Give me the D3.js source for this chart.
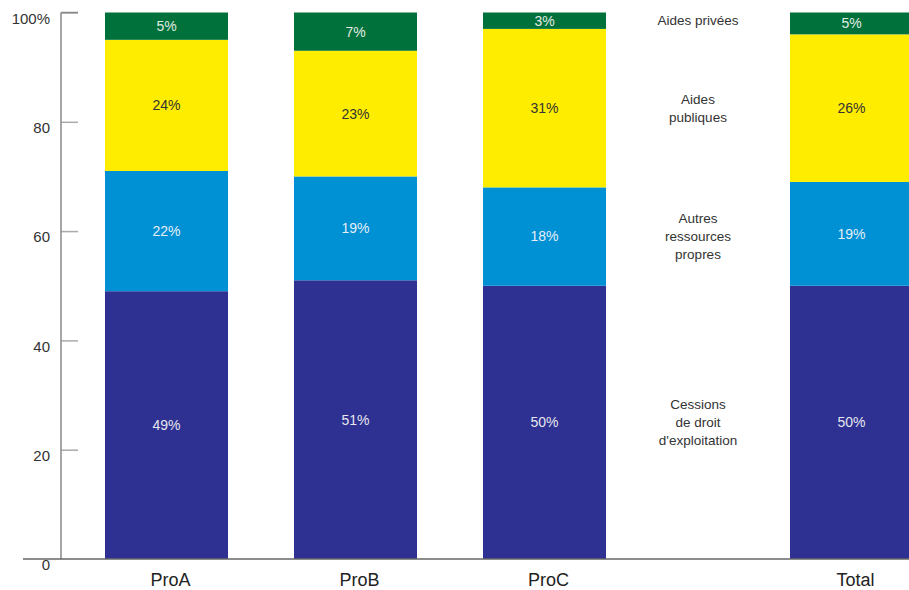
<!DOCTYPE html>
<html>
<head>
<meta charset="utf-8">
<script src="https://cdn.jsdelivr.net/npm/d3@7"></script>
<style>
  body { margin: 0; background: #fff; }
  svg text { font-family: "Liberation Sans", Arial, sans-serif; }
</style>
</head>
<body>
<div id="chart"></div>
<script>
// categories and series (share of each resource, in %)
const categories = ["ProA", "ProB", "ProC", "Total"];
const seriesNames = ["Cessions de droit d'exploitation", "Autres ressources propres", "Aides publiques", "Aides privées"];

// drawn heights of each segment
const cessions = [49, 51, 50, 50];
const autres   = [22, 19, 18, 19];
const publiques = [24, 23, 29, 27];
const privees  = [5, 7, 3, 4];

// printed labels
const cessionsLabels  = ["49%", "51%", "50%", "50%"];
const autresLabels    = ["22%", "19%", "18%", "19%"];
const publiquesLabels = ["24%", "23%", "31%", "26%"];
const priveesLabels   = ["5%", "7%", "3%", "5%"];

// legend text lines
const legendLines = [
  ["Cessions", "de droit", "d'exploitation"],
  ["Autres", "ressources", "propres"],
  ["Aides", "publiques"],
  ["Aides privées"]
];

const yTicks = [0, 20, 40, 60, 80, 100];

const colors = ["#2e3192", "#0090d4", "#ffed00", "#00713a"];
const labelColors = ["#e6e6ee", "#e6eef6", "#333333", "#e0ece4"];

const width = 909, height = 590;
const plotTop = 12.5, plotBottom = 559;

const svg = d3.select("#chart").append("svg")
  .attr("width", width)
  .attr("height", height);

const y = d3.scaleLinear().domain([0, 100]).range([plotBottom, plotTop]);

// bars: three evenly spaced, Total shifted right to leave room for legend
const x = d3.scaleBand().domain(categories).range([105, 795]).paddingInner(66 / 189).paddingOuter(0);
const legendGap = 118;
const xPos = d => x(d) + (d === "Total" ? legendGap : 0);

const values = [cessions, autres, publiques, privees];
const labels = [cessionsLabels, autresLabels, publiquesLabels, priveesLabels];

const rows = categories.map((c, i) => {
  const r = { cat: c };
  seriesNames.forEach((s, k) => r[s] = values[k][i]);
  return r;
});

const stack = d3.stack().keys(seriesNames)(rows);

// segments
stack.forEach((layer, k) => {
  const g = svg.append("g");
  g.selectAll("rect")
    .data(layer)
    .join("rect")
    .attr("x", d => xPos(d.data.cat))
    .attr("width", x.bandwidth())
    .attr("y", d => y(d[1]))
    .attr("height", d => y(d[0]) - y(d[1]))
    .attr("fill", colors[k]);

  g.selectAll("text")
    .data(layer)
    .join("text")
    .attr("x", d => xPos(d.data.cat) + x.bandwidth() / 2)
    .attr("y", d => (y(d[0]) + y(d[1])) / 2)
    .attr("dy", "0.35em")
    .attr("text-anchor", "middle")
    .attr("font-size", 14)
    .attr("fill", labelColors[k])
    .text((d, i) => labels[k][i]);
});

// legend labels, centred on the ProC segments
const legendX = (x("ProC") + x.bandwidth() + xPos("Total")) / 2;
stack.forEach((layer, k) => {
  const seg = layer[2];
  const lines = legendLines[k];
  const mid = (y(seg[0]) + y(seg[1])) / 2;
  const lh = 18;
  const t = svg.append("text")
    .attr("text-anchor", "middle")
    .attr("font-size", 13.5)
    .attr("fill", "#333");
  lines.forEach((ln, j) => {
    t.append("tspan")
      .attr("x", legendX)
      .attr("y", mid + (j - (lines.length - 1) / 2) * lh)
      .attr("dy", "0.35em")
      .text(ln);
  });
});

// y axis
const yAxis = svg.append("g")
  .attr("transform", "translate(61,0)")
  .call(d3.axisRight(y).tickValues(yTicks.slice(1)).tickSize(17).tickFormat(""));
yAxis.select(".domain").remove();
yAxis.selectAll(".tick line").attr("stroke", "#aaa").attr("stroke-width", 1.5);

svg.append("line")
  .attr("x1", 61).attr("x2", 61)
  .attr("y1", y(100)).attr("y2", y(0))
  .attr("stroke", "#888").attr("stroke-width", 1.5);

svg.append("line")
  .attr("x1", 61).attr("x2", 78)
  .attr("y1", y(100)).attr("y2", y(100))
  .attr("stroke", "#888").attr("stroke-width", 1.5);

svg.selectAll(".ylab")
  .data(yTicks)
  .join("text")
  .attr("class", "ylab")
  .attr("x", 50)
  .attr("y", d => y(d) + 6)
  .attr("dy", "0.35em")
  .attr("text-anchor", "end")
  .attr("font-size", 15)
  .attr("fill", "#333")
  .text(d => d === 100 ? "100%" : d);

// baseline
svg.append("line")
  .attr("x1", 23).attr("x2", width)
  .attr("y1", y(0)).attr("y2", y(0))
  .attr("stroke", "#666").attr("stroke-width", 1.5);

// category labels
svg.selectAll(".xlab")
  .data(categories)
  .join("text")
  .attr("class", "xlab")
  .attr("x", d => xPos(d) + x.bandwidth() / 2 + 4)
  .attr("y", 580)
  .attr("dy", "0.35em")
  .attr("text-anchor", "middle")
  .attr("font-size", 18)
  .attr("fill", "#222")
  .text(d => d);
</script>
</body>
</html>
